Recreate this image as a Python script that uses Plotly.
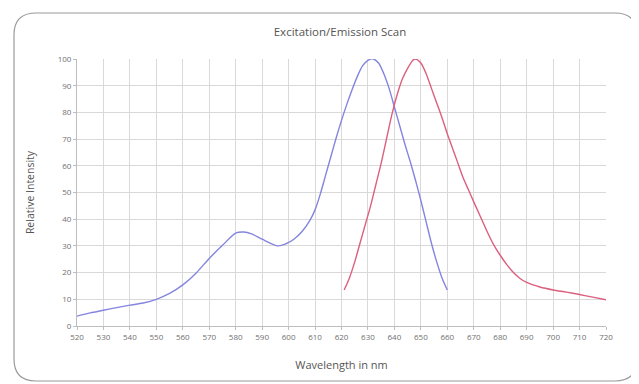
import plotly.graph_objects as go

# Excitation (blue) spectrum
ex_wl = [520, 525, 530, 535, 540, 545, 550, 555, 560, 565, 570, 575, 580, 583, 586, 590,
         596, 599, 602, 605, 608, 610, 612, 614, 616, 618, 620, 622, 624, 626, 628, 630,
         632, 634, 636, 638, 640, 642, 644, 646, 648, 650, 652, 654, 656, 658, 660]
ex_val = [3.7, 4.9, 5.9, 6.9, 7.8, 8.6, 10, 12.2, 15.4, 19.8, 25.3, 30.2, 34.8, 35.2, 34.5, 32.5,
          30, 30.8, 32.5, 35.3, 39.5, 43.5, 49.5, 56.5, 63.5, 70.5, 77, 83, 88.5, 93.5, 97.5, 99.5,
          100, 98.5, 94.5, 89, 82, 75, 68, 61.5, 54.5, 47, 39, 31, 24, 18, 13.5]

# Emission (red) spectrum
em_wl = [621, 623, 625, 627, 629, 631, 633, 635, 637, 639, 641, 643, 645, 647, 648, 650,
         652, 654, 656, 658, 660, 662, 664, 666, 668, 670, 672.5, 675, 677.5, 680, 682.5,
         685, 687.5, 690, 695, 700, 705, 710, 715, 720]
em_val = [13.5, 18, 24, 31, 38, 45, 53, 61, 70, 79, 86.5, 92.5, 96.5, 99.5, 100, 98.5,
          94.5, 89, 83.5, 78, 72, 66.5, 61, 55.5, 51, 46.5, 41, 35.5, 30.5, 26.5, 23,
          20, 17.8, 16.3, 14.6, 13.5, 12.7, 11.8, 10.8, 9.8]

x_ticks = list(range(520, 721, 10))
y_ticks = list(range(0, 101, 10))

OFF = 8  # browser body margin
W, H = 639 - OFF, 384 - OFF
L, R, T, B = 77 - OFF, 606 - OFF, 59 - OFF, 326 - OFF  # plot area edges in figure px

fig = go.Figure()
fig.add_trace(go.Scatter(x=ex_wl, y=ex_val, mode="lines",
                         line=dict(color="#8385de", width=1.4, shape="spline", smoothing=0.8),
                         hoverinfo="skip", showlegend=False))
fig.add_trace(go.Scatter(x=em_wl, y=em_val, mode="lines",
                         line=dict(color="#dc5f7f", width=1.4, shape="spline", smoothing=0.8),
                         hoverinfo="skip", showlegend=False))

# rounded card border (pixel -> paper)
pw, ph = R - L, B - T
def px(x):
    return (x - OFF - L) / pw
def py(y):
    return (B - (y - OFF)) / ph
cl, ct, cr, cb, rad = 14, 13, 637, 381, 22
path = (f"M {px(cl)},{py(ct+rad)} Q {px(cl)},{py(ct)} {px(cl+rad)},{py(ct)} "
        f"L {px(cr-rad)},{py(ct)} Q {px(cr)},{py(ct)} {px(cr)},{py(ct+rad)} "
        f"L {px(cr)},{py(cb-rad)} Q {px(cr)},{py(cb)} {px(cr-rad)},{py(cb)} "
        f"L {px(cl+rad)},{py(cb)} Q {px(cl)},{py(cb)} {px(cl)},{py(cb-rad)} Z")
fig.add_shape(type="path", path=path, xref="paper", yref="paper",
              line=dict(color="#9a9a9a", width=1.2), layer="below")

font_family = "Open Sans, Roboto, sans-serif"
fig.update_layout(
    width=W, height=H,
    margin=dict(l=L, r=W - R, t=T, b=H - B),
    paper_bgcolor="white", plot_bgcolor="white",
    title=dict(text="Excitation/Emission Scan", x=px(340), xref="paper", xanchor="center",
               y=1 - (32 - OFF) / H, yanchor="middle",
               font=dict(family=font_family, size=11.5, color="#555555")),
    font=dict(family=font_family, size=8, color="#6a6a6a"),
    xaxis=dict(range=[520, 720], tickvals=x_ticks, ticktext=[str(v) for v in x_ticks],
               showgrid=True, gridcolor="#d9d9d9", gridwidth=1,
               showline=True, linecolor="#bdbdbd", linewidth=1,
               ticks="outside", ticklen=3, tickcolor="#bdbdbd",
               zeroline=False, tickfont=dict(size=8, color="#707070"),
               title=dict(text="Wavelength in nm", standoff=20,
                          font=dict(size=11, color="#555555"))),
    yaxis=dict(range=[0, 100], tickvals=y_ticks,
               showgrid=True, gridcolor="#d9d9d9", gridwidth=1,
               showline=True, linecolor="#bdbdbd", linewidth=1,
               ticks="outside", ticklen=3, tickcolor="#bdbdbd",
               zeroline=False, tickfont=dict(size=8, color="#707070"),
               title=dict(text="Relative Intensity", standoff=20,
                          font=dict(size=10.5, color="#555555"))),
)

fig.write_html("out.html")
